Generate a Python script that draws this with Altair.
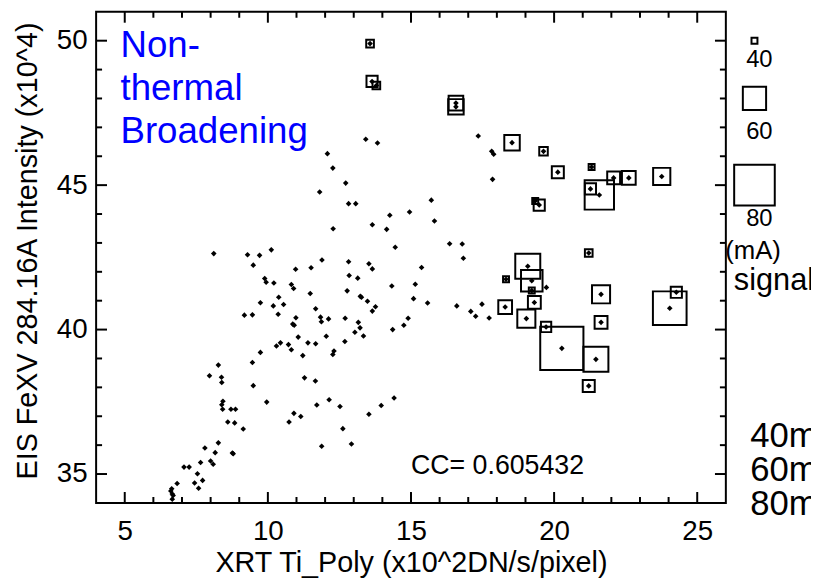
import altair as alt
import pandas as pd

FONT = "Liberation Sans"

# plain scatter points (XRT Ti_Poly, EIS FeXV 284.16A)
dot_x = [13.42, 13.83, 12.08, 12.27, 12.72, 11.81, 17.35, 17.82, 17.89, 17.85, 15.71,
         14.95, 15.82, 16.35, 16.79, 16.83, 15.37, 15.15, 15.09, 15.58, 16.60, 17.09, 17.26, 17.48, 17.73, 14.90, 14.75, 19.73,
         12.82, 13.07, 14.26, 13.65, 14.15, 12.28, 8.11, 9.29, 9.71, 10.12, 9.49, 11.89, 10.97, 11.51, 12.82, 13.53, 13.65,
         14.45, 12.84, 13.14, 9.89, 9.94, 10.21, 10.82, 10.90, 11.48, 12.77, 13.23, 13.27, 13.48, 14.33, 9.74, 10.19, 10.38,
         10.55, 11.67, 9.18, 9.46, 10.36, 10.98, 11.84, 11.87, 12.12, 12.70, 13.76, 13.65, 13.16, 13.22, 13.04, 13.34, 10.87,
         10.92, 14.36, 11.06, 11.40, 11.67, 12.04, 10.44, 10.30, 10.72, 10.82, 11.22, 12.69, 12.31, 12.27, 9.74, 9.46, 8.27,
         7.96, 8.38, 8.39, 11.28, 11.66, 9.49, 8.43, 8.39, 8.42, 8.71, 8.87, 9.96, 12.14, 12.52, 11.71, 10.91, 11.15, 10.74,
         13.53, 13.96, 14.41, 8.60, 8.84, 9.14, 12.62, 8.27, 11.88, 12.92, 7.80, 8.16, 8.76, 8.79, 7.65, 8.00, 8.09, 7.07,
         7.25, 7.54, 6.83, 7.44, 7.72, 7.58, 6.64, 6.61, 6.66, 6.69, 6.66]
dot_y = [46.59, 46.46, 46.09, 45.59, 45.07, 44.76, 46.70, 46.17, 46.07, 45.20, 44.48,
         44.07, 43.76, 42.97, 42.96, 42.47, 42.15, 41.57, 41.07, 40.92, 40.82, 40.63, 40.46, 40.88, 40.40, 40.39, 40.15, 41.46,
         44.36, 44.36, 43.96, 43.63, 43.47, 43.49, 42.63, 42.59, 42.57, 42.76, 42.23, 42.41, 42.09, 42.14, 42.35, 42.28, 42.10,
         42.85, 41.87, 41.78, 41.77, 41.64, 41.61, 41.56, 41.42, 41.25, 41.34, 41.15, 41.12, 40.98, 41.51, 40.93, 40.82, 41.12,
         40.87, 40.72, 40.50, 40.51, 40.53, 40.41, 40.43, 40.27, 40.37, 40.39, 40.79, 40.64, 40.25, 40.06, 39.91, 39.78, 40.19,
         40.15, 40.00, 39.74, 39.54, 39.51, 39.77, 39.54, 39.43, 39.48, 39.30, 39.10, 39.59, 39.26, 39.14, 39.21, 38.86, 38.77,
         38.40, 38.35, 38.17, 38.33, 38.22, 38.06, 37.52, 37.40, 37.24, 37.24, 37.24, 37.49, 37.57, 37.34, 37.39, 37.10, 36.99, 36.80,
         37.07, 37.37, 37.63, 36.80, 36.77, 36.56, 36.57, 36.08, 35.96, 36.04, 35.90, 35.74, 35.73, 35.70, 35.40, 35.45, 35.34, 35.24,
         35.24, 35.01, 34.67, 34.69, 34.78, 34.51, 34.49, 34.41, 34.31, 34.26, 34.13]

# points flagged with a square whose size gives the signal current (mA)
sq_x = [13.57, 13.64, 13.79, 16.57, 16.57, 18.53, 19.63, 20.13, 21.31, 21.58, 21.27, 22.08, 22.61, 23.76,
        19.48, 19.34, 21.21, 18.32, 19.08, 19.22, 19.22, 19.31, 18.29, 19.03, 19.72, 20.27, 21.46, 21.21,
        21.64, 21.64, 24.04, 24.27]
sq_y = [49.90, 48.59, 48.45, 47.84, 47.71, 46.47, 46.17, 45.45, 45.63, 44.66, 44.87, 45.25, 45.25, 45.30,
        44.31, 44.45, 42.65, 41.74, 42.19, 41.69, 41.35, 40.94, 40.78, 40.38, 40.09, 39.35, 38.97, 38.05,
        41.22, 40.25, 40.74, 41.29]
sq_ma = [42, 46, 42, 50, 51, 51, 43, 47, 40, 67, 46, 48, 49, 53,
         46, 40, 42, 40, 62, 58, 40, 48, 49, 54, 45, 83, 62, 47,
         54, 48, 72, 46]

x_major = [5, 10, 15, 20, 25]
x_minor = [6, 7, 8, 9, 11, 12, 13, 14, 16, 17, 18, 19, 21, 22, 23, 24]
y_major = [35, 40, 45, 50]
y_minor = [36, 37, 38, 39, 41, 42, 43, 44, 46, 47, 48, 49]

legend_ma = [40, 60, 80]
legend_labels = ["40", "60", "80"]
side_labels = ["40m", "60m", "80m"]

W, H = 636, 496
xs = alt.Scale(domain=[4, 26], nice=False, zero=False)
ys = alt.Scale(domain=[34, 51], nice=False, zero=False)
SIDE = "pow(6 + (datum.ma - 40) * 0.875, 2)"

dots = pd.DataFrame({"x": dot_x + sq_x, "y": dot_y + sq_y})
squares = pd.DataFrame({"x": sq_x, "y": sq_y, "ma": sq_ma})

xaxis = alt.Axis(values=x_major, ticks=False, domain=False, grid=False,
                 labelFont=FONT, labelFontSize=28, labelColor="black", labelPadding=15,
                 title="XRT Ti_Poly (x10^2DN/s/pixel)", titleFont=FONT, titleFontSize=29,
                 titleFontWeight="normal", titleColor="black",
                 titleX=W / 2, titleY=69, titleBaseline="alphabetic")
yaxis = alt.Axis(values=y_major, ticks=False, domain=False, grid=False,
                 labelFont=FONT, labelFontSize=28, labelColor="black", labelPadding=9,
                 title="EIS FeXV 284.16A Intensity (x10^4)", titleFont=FONT, titleFontSize=29,
                 titleFontWeight="normal", titleColor="black",
                 titleX=-69, titleY=241, titleBaseline="middle", titleAngle=-90)

X = alt.X("x:Q", scale=xs)
Y = alt.Y("y:Q", scale=ys)

pts = alt.Chart(dots).mark_point(shape="diamond", filled=True, size=32, color="black", opacity=1).encode(
    x=alt.X("x:Q", scale=xs, axis=xaxis),
    y=alt.Y("y:Q", scale=ys, axis=yaxis),
)

sqs = alt.Chart(squares).transform_calculate(area=SIDE).mark_point(
    shape="square", filled=False, stroke="black", strokeWidth=2, opacity=1
).encode(x=X, y=Y, size=alt.Size("area:Q", scale=None))


def xticks(vals, length):
    d = pd.DataFrame({"x": vals})
    b = alt.Chart(d).mark_rule(color="black", strokeWidth=2).encode(
        x=X, y=alt.value(H), y2=alt.value(H - length))
    t = alt.Chart(d).mark_rule(color="black", strokeWidth=2).encode(
        x=X, y=alt.value(0), y2=alt.value(length))
    return [b, t]


def yticks(vals, length):
    d = pd.DataFrame({"y": vals})
    l = alt.Chart(d).mark_rule(color="black", strokeWidth=2).encode(
        y=Y, x=alt.value(0), x2=alt.value(length))
    r = alt.Chart(d).mark_rule(color="black", strokeWidth=2).encode(
        y=Y, x=alt.value(W), x2=alt.value(W - length))
    return [l, r]


ticks = xticks(x_major, 11) + xticks(x_minor, 6) + yticks(y_major, 11) + yticks(y_minor, 6)


def text_layer(xv, yv, texts, **kw):
    d = pd.DataFrame({"x": xv, "y": yv, "t": texts})
    return alt.Chart(d).mark_text(font=FONT, **kw).encode(x=X, y=Y, text="t:N")


blue = text_layer([4.85], [49.42], ["Non-\nthermal\nBroadening"], align="left", baseline="alphabetic",
                  fontSize=37, color="#0000ff", lineBreak="\n", lineHeight=43)
cc = text_layer([15.0], [35.0], ["CC= 0.605432"], align="left", baseline="alphabetic",
                fontSize=27, color="black")

# size legend (outside the frame, in data coordinates)
leg = pd.DataFrame({"ma": legend_ma, "x": [27.0] * 3, "y": [50.0, 48.0, 45.0]})
leg_sq = alt.Chart(leg).transform_calculate(area=SIDE).mark_point(
    shape="square", filled=False, stroke="black", strokeWidth=2, opacity=1
).encode(x=X, y=Y, size=alt.Size("area:Q", scale=None))
leg_tx = text_layer([27.17] * 3, [49.1, 46.6, 43.58], legend_labels, align="center",
                    baseline="alphabetic", fontSize=24, color="black")
unit1 = text_layer([26.95], [42.45], ["(mA)"], align="center", baseline="alphabetic",
                   fontSize=26, color="black")
unit2 = text_layer([26.28], [41.37], ["signal"], align="left", baseline="alphabetic",
                   fontSize=31, color="black")
side = text_layer([26.85] * 3, [35.94, 34.76, 33.58], side_labels, align="left",
                  baseline="alphabetic", fontSize=35, color="black")

chart = alt.layer(pts, sqs, *ticks, blue, cc, leg_sq, leg_tx, unit1, unit2, side).properties(
    width=W, height=H,
    autosize=alt.AutoSizeParams(type="none"),
    padding={"left": 89, "top": 1, "right": 86, "bottom": 74},
    background="white",
).configure_view(stroke="black", strokeWidth=2)

chart.save("out.html", embed_options={"renderer": "svg", "actions": False})
